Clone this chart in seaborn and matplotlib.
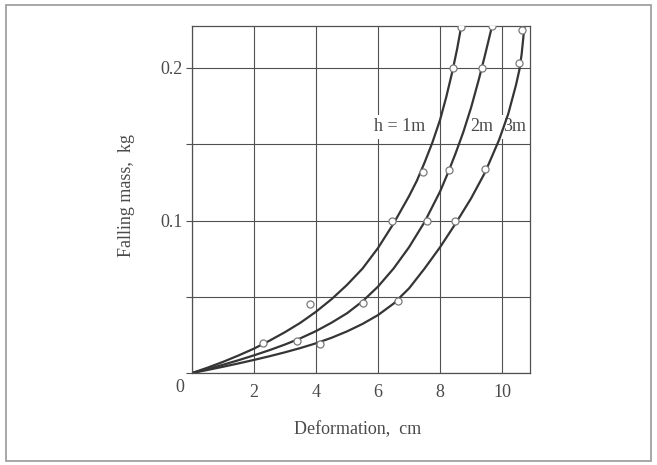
import matplotlib
matplotlib.use("Agg")
import matplotlib.pyplot as plt
import pandas as pd
import seaborn as sns
from matplotlib.patches import Rectangle

# ---- data ----
# smooth curves
curve_1m_x = [0, 0.5, 1, 1.5, 2, 2.5, 3, 3.5, 4, 4.5, 5, 5.5, 6, 6.5, 7, 7.25, 7.5, 7.75, 8, 8.2, 8.4, 8.55, 8.68]
curve_1m_y = [0, 0.0035, 0.0073, 0.0115, 0.016, 0.0212, 0.0268, 0.033, 0.0402, 0.0484, 0.0578, 0.0685,
              0.082, 0.098, 0.116, 0.126, 0.138, 0.151, 0.166, 0.181, 0.198, 0.2125, 0.227]

curve_2m_x = [0, 0.5, 1, 1.5, 2, 2.5, 3, 3.5, 4, 4.5, 5, 5.5, 6, 6.5, 7, 7.5, 8, 8.25, 8.5, 8.75, 9, 9.25,
              9.45, 9.67]
curve_2m_y = [0, 0.0026, 0.0054, 0.0084, 0.0116, 0.015, 0.0187, 0.0228, 0.0275, 0.033, 0.0392, 0.047,
              0.0567, 0.0685, 0.0825, 0.099, 0.119, 0.131, 0.144, 0.158, 0.174, 0.1925, 0.2085, 0.227]

curve_3m_x = [0, 0.5, 1, 1.5, 2, 2.5, 3, 3.5, 4, 4.5, 5, 5.5, 6, 6.5, 7, 7.5, 8, 8.5, 9, 9.45, 9.9, 10.2,
              10.45, 10.56, 10.63, 10.68, 10.72]
curve_3m_y = [0, 0.002, 0.0041, 0.0063, 0.0086, 0.011, 0.0136, 0.0164, 0.0195, 0.0231, 0.0273, 0.0322,
              0.038, 0.0455, 0.0555, 0.0685, 0.0825, 0.098, 0.1145, 0.1315, 0.1527, 0.17, 0.189, 0.199,
              0.209, 0.219, 0.2275]

# measured points (open circles)
pts_1m_x = [2.3, 3.8, 6.44, 7.46, 8.41, 8.68]
pts_1m_y = [0.02, 0.045, 0.1, 0.132, 0.2, 0.227]
pts_2m_x = [3.38, 5.5, 7.57, 8.28, 9.34, 9.67]
pts_2m_y = [0.021, 0.046, 0.1, 0.133, 0.2, 0.2275]
pts_3m_x = [4.13, 6.65, 8.48, 9.45, 10.56, 10.65]
pts_3m_y = [0.019, 0.047, 0.1, 0.134, 0.203, 0.225]

series_labels = ["h = 1m", "2m", "3m"]
label_x = [6.71, 9.35, 10.42]
label_y = [0.1615, 0.1615, 0.1615]

x_ticks = [0, 2, 4, 6, 8, 10]
x_tick_labels = ["", "2", "4", "6", "8", "10"]
y_ticks = [0, 0.05, 0.1, 0.15, 0.2]
y_tick_labels = ["", "", "0.1", "", "0.2"]

x_title = "Deformation,  cm"
y_title = "Falling mass,  kg"

# ---- build tables ----
curves = pd.concat([
    pd.DataFrame({"x": curve_1m_x, "y": curve_1m_y, "h": "1m"}),
    pd.DataFrame({"x": curve_2m_x, "y": curve_2m_y, "h": "2m"}),
    pd.DataFrame({"x": curve_3m_x, "y": curve_3m_y, "h": "3m"}),
], ignore_index=True)
points = pd.concat([
    pd.DataFrame({"x": pts_1m_x, "y": pts_1m_y, "h": "1m"}),
    pd.DataFrame({"x": pts_2m_x, "y": pts_2m_y, "h": "2m"}),
    pd.DataFrame({"x": pts_3m_x, "y": pts_3m_y, "h": "3m"}),
], ignore_index=True)

sns.set_theme(style="white")
plt.rcParams["font.family"] = ["Liberation Serif", "DejaVu Serif"]
text_col = "#4a4a4a"
fs = 13

fig = plt.figure(figsize=(6.57, 4.65), dpi=100)
fig.patch.set_facecolor("white")
ax = fig.add_axes([0.2922, 0.1978, 0.5145, 0.7462])

sns.lineplot(data=curves, x="x", y="y", hue="h", units="h", estimator=None, sort=False,
             palette=["#353535"] * 3, linewidth=1.6, legend=False, ax=ax, zorder=2)
sns.scatterplot(data=points, x="x", y="y", s=26, color="white", edgecolor="#7a7a7a",
                linewidth=0.9, legend=False, ax=ax, zorder=3)

ax.set_xlim(0, 10.9)
ax.set_ylim(0, 0.2275)
ax.set_xticks(x_ticks)
ax.set_xticklabels(x_tick_labels)
ax.set_yticks(y_ticks)
ax.set_yticklabels(y_tick_labels)
ax.set_axisbelow(True)
ax.grid(True, color="#505050", linewidth=0.8)

for s in ax.spines.values():
    s.set_visible(True)
    s.set_color("#505050")
    s.set_linewidth(0.9)

ax.tick_params(axis="x", length=0, pad=8, labelsize=fs, labelcolor=text_col)
ax.tick_params(axis="y", direction="out", length=4, width=0.8, color="#505050",
               pad=3, labelsize=fs, labelcolor=text_col, left=True)

ax.text(-0.036, -0.043, "0", transform=ax.transAxes, ha="center", va="center",
        fontsize=fs, color=text_col)

ax.set_xlabel(x_title, fontsize=fs, color=text_col)
ax.set_ylabel(y_title, fontsize=fs, color=text_col)
ax.xaxis.set_label_coords(0.49, -0.138)
ax.yaxis.set_label_coords(-0.168, 0.513)

for lbl, lx, ly in zip(series_labels, label_x, label_y):
    ax.text(lx, ly, lbl, ha="center", va="center", fontsize=fs, color=text_col, zorder=1.5,
            bbox=dict(boxstyle="square,pad=0.2", facecolor="white", edgecolor="none"))

fig.patches.append(Rectangle((6 / 657, 4 / 465), 645 / 657, 456 / 465, transform=fig.transFigure,
                             fill=False, edgecolor="#a0a0a0", linewidth=1.3))

fig.savefig("out.png", dpi=100, facecolor="white")
